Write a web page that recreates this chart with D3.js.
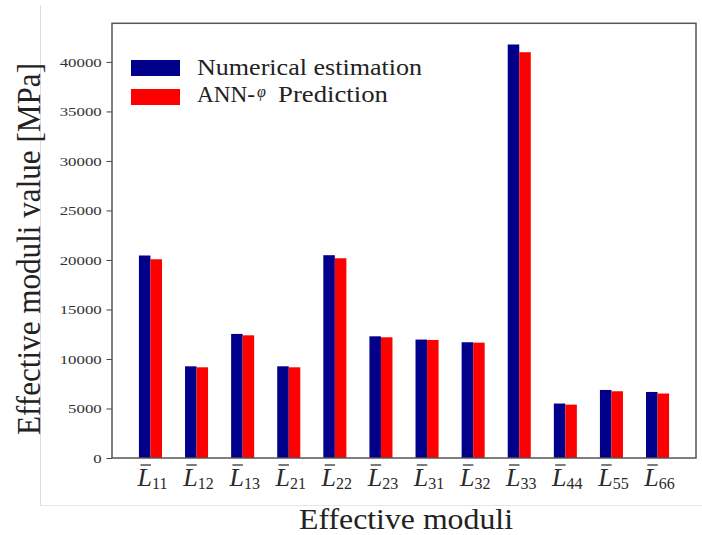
<!DOCTYPE html>
<html><head><meta charset="utf-8">
<script src="https://cdn.jsdelivr.net/npm/d3@7"></script>
<style>body{margin:0;background:#fff}svg{display:block}</style>
</head><body>
<svg id="c" width="702" height="535"></svg>
<script>
const categories = ["L11","L12","L13","L21","L22","L23","L31","L32","L33","L44","L55","L66"];
const subscripts = ["11","12","13","21","22","23","31","32","33","44","55","66"];
const numerical = [20450, 9260, 12530, 9260, 20480, 12290, 11960, 11690, 41760, 5500, 6870, 6670];
const annPrediction = [20070, 9160, 12390, 9160, 20170, 12190, 11920, 11650, 40980, 5390, 6740, 6510];
const yTicks = [0,5000,10000,15000,20000,25000,30000,35000,40000];
const seriesNames = ["Numerical estimation","ANN-"];
const colors = ["#00008b","#ff0000"];

const FONT = '"Liberation Serif","Times New Roman",serif';
const svg = d3.select("#c");
const L = 112, R = 696, T = 23.3, B = 458;

// decorative light border lines of the original figure
svg.append("line").attr("x1",40.5).attr("x2",40.5).attr("y1",5).attr("y2",505).attr("stroke","#dcdcdc").attr("stroke-width",1);
svg.append("line").attr("x1",40).attr("x2",702).attr("y1",505.5).attr("y2",505.5).attr("stroke","#e6e6e6").attr("stroke-width",1);

const x = d3.scalePoint().domain(categories).range([L,R]).padding(0.834);
const y = d3.scaleLinear().domain([0,43900]).range([B,T]);
const bw = x.step()*0.25;

const g = svg.append("g");
g.selectAll("rect.num").data(categories).join("rect").attr("class","num")
  .attr("x",d=>x(d)-bw).attr("width",bw)
  .attr("y",(d,i)=>y(numerical[i])).attr("height",(d,i)=>B-y(numerical[i]))
  .attr("fill",colors[0]);
g.selectAll("rect.ann").data(categories).join("rect").attr("class","ann")
  .attr("x",d=>x(d)).attr("width",bw)
  .attr("y",(d,i)=>y(annPrediction[i])).attr("height",(d,i)=>B-y(annPrediction[i]))
  .attr("fill",colors[1]);

// y axis
const ya = svg.append("g").attr("transform",`translate(${L},0)`)
  .call(d3.axisLeft(y).tickValues(yTicks).tickSize(5.5).tickPadding(4.8).tickFormat(d3.format("d")));
ya.attr("font-family",null).attr("font-size",null);
ya.select(".domain").remove();
ya.selectAll(".tick line").attr("stroke","#444").attr("stroke-width",1);
ya.selectAll(".tick text").style("font-family",FONT).style("font-size","13px").attr("fill","#333")
  .attr("textLength",d=>String(d).length*8.4).attr("lengthAdjust","spacingAndGlyphs");

// x tick labels
const xl = svg.append("g");
categories.forEach((c,i)=>{
  const t = xl.append("text").attr("x",x(c)+2).attr("y",485.5).attr("text-anchor","middle")
    .attr("font-family",FONT).attr("fill","#2a2a2a");
  t.append("tspan").attr("font-style","italic").attr("font-size",26).text("L");
  t.append("tspan").attr("font-size",16).attr("dy",3).text(subscripts[i]);
  const ext = t.node().getExtentOfChar(0);
  xl.append("line").attr("x1",ext.x+3).attr("x2",ext.x+ext.width-1)
    .attr("y1",465).attr("y2",465).attr("stroke","#444").attr("stroke-width",1.4);
});

// frame
svg.append("rect").attr("x",L).attr("y",T).attr("width",R-L).attr("height",B-T)
  .attr("fill","none").attr("stroke","#555").attr("stroke-width",1.5);

// axis titles
svg.append("text").attr("x",406).attr("y",529).attr("text-anchor","middle")
  .attr("font-family",FONT).attr("font-size",30).attr("fill","#222")
  .attr("textLength",214).attr("lengthAdjust","spacingAndGlyphs").text("Effective moduli");
svg.append("text").attr("transform","translate(40,249) rotate(-90)").attr("text-anchor","middle")
  .attr("font-family",FONT).attr("font-size",33).attr("fill","#222")
  .attr("textLength",372).attr("lengthAdjust","spacingAndGlyphs").text("Effective moduli value [MPa]");

// legend
const lg = svg.append("g");
lg.append("rect").attr("x",131).attr("y",60).attr("width",49).attr("height",16).attr("fill",colors[0]);
lg.append("rect").attr("x",131).attr("y",89).attr("width",49).attr("height",16).attr("fill",colors[1]);
lg.append("text").attr("x",197).attr("y",74.5).attr("font-family",FONT).attr("font-size",23).attr("fill","#222")
  .attr("textLength",225).attr("lengthAdjust","spacingAndGlyphs").text(seriesNames[0]);
lg.append("text").attr("x",197).attr("y",102).attr("font-family",FONT).attr("font-size",23).attr("fill","#222")
  .attr("textLength",58).attr("lengthAdjust","spacingAndGlyphs").text(seriesNames[1]);
lg.append("text").attr("x",257).attr("y",97).attr("font-family",FONT).attr("font-size",16).attr("font-style","italic").attr("fill","#222")
  .text("\u03C6");
lg.append("text").attr("x",278).attr("y",102).attr("font-family",FONT).attr("font-size",23).attr("fill","#222")
  .attr("textLength",110).attr("lengthAdjust","spacingAndGlyphs").text("Prediction");
</script>
</body></html>
